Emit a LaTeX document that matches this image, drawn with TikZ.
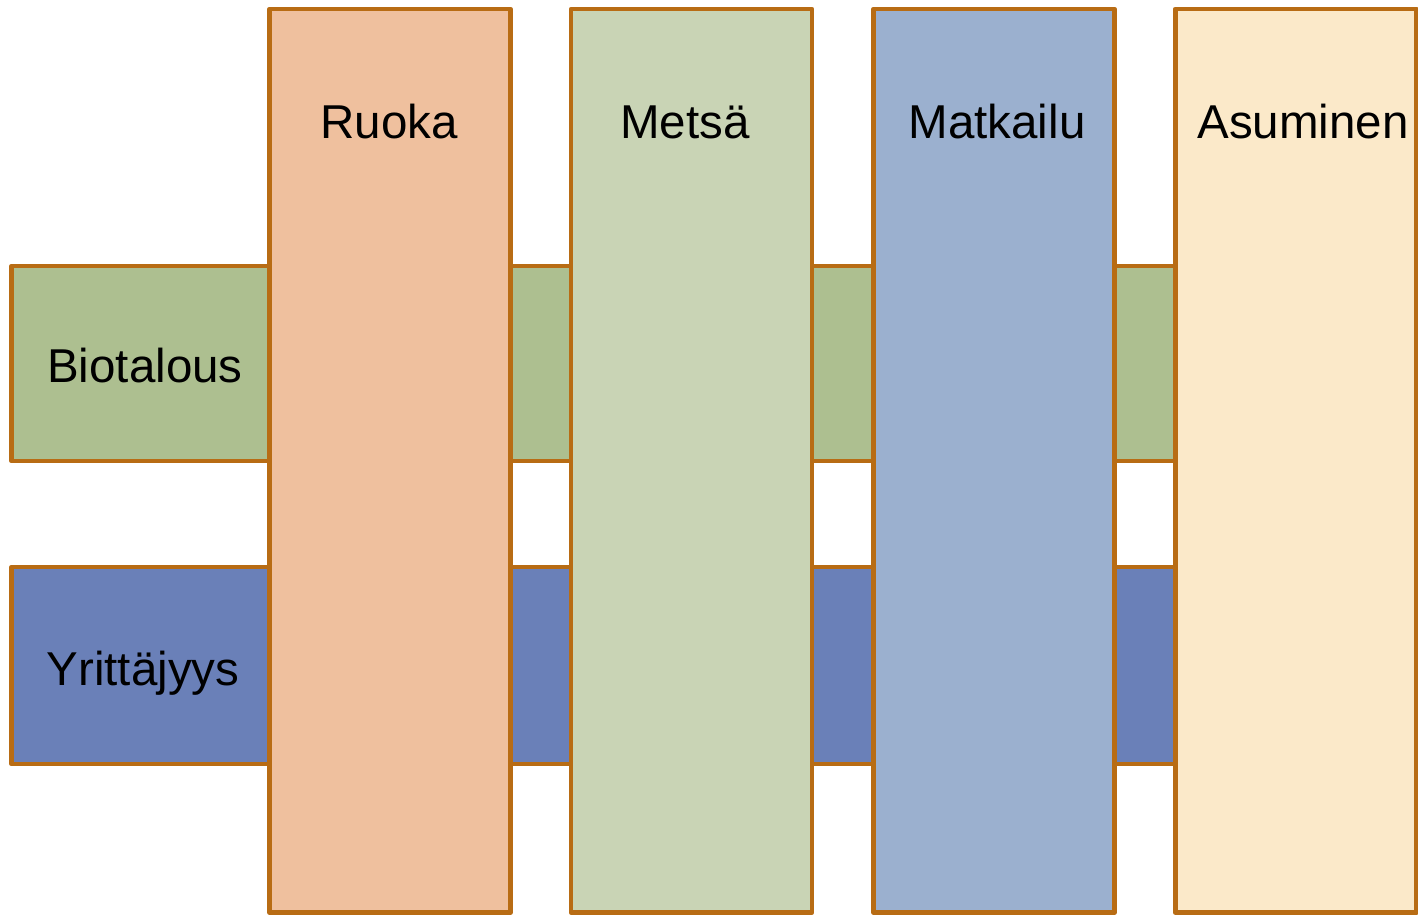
\documentclass[tikz,border=0pt]{standalone}
\usepackage{fontspec}
\setmainfont{Liberation Sans}
\definecolor{edge}{HTML}{B86C14}
\definecolor{ruokaC}{HTML}{EFC09E}
\definecolor{metsaC}{HTML}{C9D4B5}
\definecolor{matkC}{HTML}{9BB0CF}
\definecolor{asuC}{HTML}{FBE9C9}
\definecolor{bioC}{HTML}{ADBF90}
\definecolor{yritC}{HTML}{6A80B8}
\begin{document}
\begin{tikzpicture}[x=1pt,y=-1pt,
  box/.style={draw=edge, line width=4.75pt, line join=round, rectangle, inner sep=0pt, outer sep=0pt},
  col/.style={box, minimum width=241pt, minimum height=903.5pt},
  bar/.style={box, minimum width=1164pt, minimum height=195pt},
  lbl/.style={font=\fontsize{47.5}{57}\selectfont, text=black, inner sep=0pt, anchor=base}]
\useasboundingbox (0,0) rectangle (1418,915);
\node[bar, fill=bioC] (bio) at (593.5,363.5) {};
\node[bar, fill=yritC, minimum height=197pt] (yrit) at (593.5,665.5) {};
\node[col, fill=ruokaC] (ruoka) at (390,460.75) {};
\node[col, fill=metsaC] (metsa) at (691.5,460.75) {};
\node[col, fill=matkC] (matk) at (994,460.75) {};
\node[col, fill=asuC] (asu) at (1295.75,460.75) {};
\node[lbl] (tbio) at (145,382) {Biotalous};
\node[lbl] (tyrit) at (143,685) {Yrittäjyys};
\node[lbl] (truoka) at (389,139) {Ruoka};
\node[lbl] (tmetsa) at (685,139) {Metsä};
\node[lbl] (tmatk) at (997,139) {Matkailu};
\node[lbl] (tasu) at (1303,139) {Asuminen};
\end{tikzpicture}
\end{document}
